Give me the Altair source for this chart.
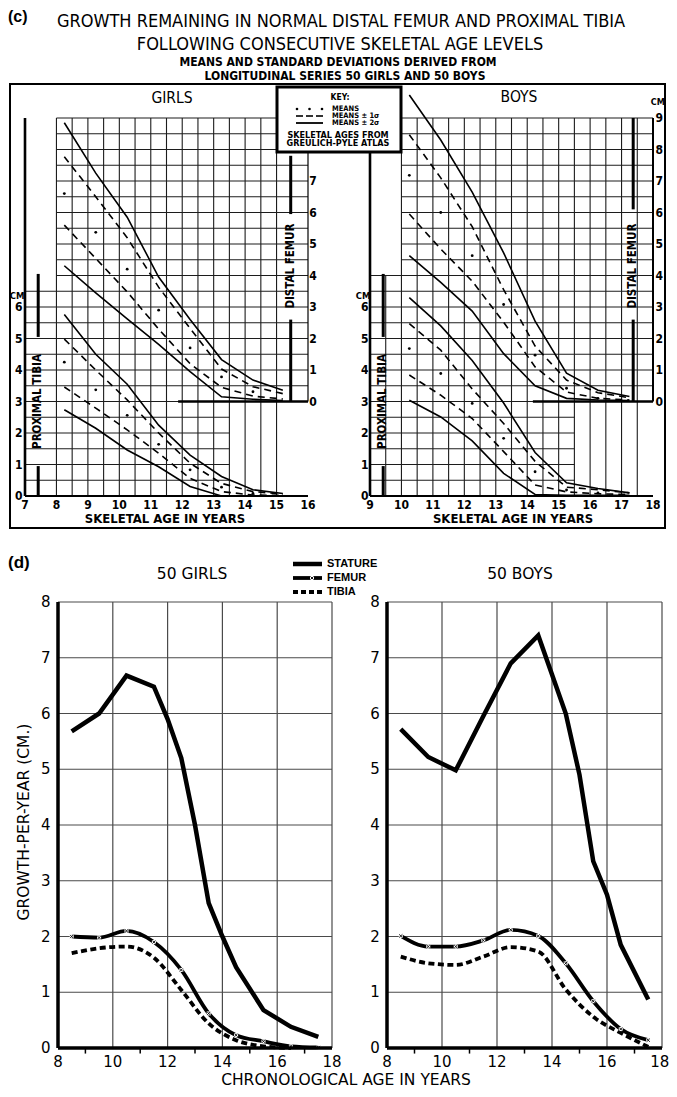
import altair as alt
import pandas as pd
import numpy as np

# ---------------- data: (c) growth remaining after each skeletal age ----------------
girls_skel_age = [8.25, 9.25, 10.25, 11.25, 12.25, 13.25, 14.25, 15.2]
girls_tibia_plus2 = [5.76, 4.5, 3.55, 2.25, 1.3, 0.62, 0.2, 0.08]
girls_tibia_plus1 = [4.98, 4.0, 3.05, 2.0, 1.04, 0.4, 0.14, 0.06]
girls_tibia_mean = [4.25, 3.37, 2.56, 1.64, 0.83, 0.28, 0.08]
girls_tibia_minus1 = [3.46, 2.79, 2.1, 1.36, 0.56, 0.14, 0.03, 0.02]
girls_tibia_minus2 = [2.74, 2.15, 1.46, 0.93, 0.3, 0.0, 0.0, 0.0]
girls_femur_plus2 = [8.85, 7.25, 5.85, 3.95, 2.6, 1.33, 0.68, 0.36]
girls_femur_plus1 = [7.77, 6.5, 5.2, 3.63, 2.32, 1.03, 0.47, 0.25]
girls_femur_mean = [6.6, 5.37, 4.2, 2.9, 1.7, 0.78, 0.31]
girls_femur_minus1 = [5.6, 4.54, 3.48, 2.3, 1.2, 0.45, 0.17, 0.08]
girls_femur_minus2 = [4.31, 3.45, 2.62, 1.81, 0.95, 0.15, 0.07, 0.03]

boys_skel_age = [10.25, 11.25, 12.25, 13.25, 14.25, 15.25, 16.25, 17.25]
boys_tibia_plus2 = [6.3, 5.4, 4.3, 2.95, 1.38, 0.42, 0.24, 0.1]
boys_tibia_plus1 = [5.47, 4.63, 3.4, 2.3, 1.1, 0.28, 0.2, 0.1]
boys_tibia_mean = [4.68, 3.89, 2.94, 1.83, 0.77, 0.19, 0.1]
boys_tibia_minus1 = [3.84, 3.2, 2.46, 1.41, 0.35, 0.13, 0.07, 0.05]
boys_tibia_minus2 = [3.04, 2.51, 1.75, 0.72, 0.05, 0.02, 0.02, 0.02]
boys_femur_plus2 = [9.73, 8.3, 6.65, 4.72, 2.55, 0.9, 0.36, 0.16]
boys_femur_plus1 = [8.47, 7.1, 5.55, 3.55, 1.76, 0.68, 0.28, 0.12]
boys_femur_mean = [7.18, 6.0, 4.63, 3.08, 1.47, 0.42, 0.1]
boys_femur_minus1 = [5.95, 4.84, 3.82, 2.52, 1.1, 0.3, 0.1, 0.05]
boys_femur_minus2 = [4.63, 3.78, 2.87, 1.52, 0.5, 0.1, 0.05, 0.03]

girls_skel_ticks = list(range(7, 17))
boys_skel_ticks = list(range(9, 19))
tibia_ticks = list(range(0, 7))
girls_femur_ticks = list(range(0, 8))
boys_femur_ticks = list(range(0, 10))
FEMUR_BASE = 3  # the femur scale starts at 3 cm of the tibia scale

# ---------------- data: (d) growth per year ----------------
chrono_age = [8.5, 9.5, 10.5, 11.5, 12.5, 13.5, 14.5, 15.5, 16.5, 17.5]
girls_stature_age = [8.5, 9.5, 10.5, 11.5, 12.0, 12.5, 13.0, 13.5, 14.0, 14.5, 15.5, 16.5, 17.5]
girls_stature = [5.68, 6.0, 6.68, 6.48, 5.9, 5.2, 4.0, 2.6, 2.0, 1.45, 0.68, 0.38, 0.2]
girls_femur = [2.0, 1.98, 2.1, 1.9, 1.4, 0.62, 0.23, 0.12, 0.03, 0.01]
girls_tibia = [1.7, 1.79, 1.82, 1.62, 1.04, 0.44, 0.14, 0.03, 0.0]
boys_stature_age = [8.5, 9.5, 10.5, 11.5, 12.5, 13.5, 14.5, 15.0, 15.5, 16.0, 16.5, 17.5]
boys_stature = [5.72, 5.22, 4.98, 5.95, 6.9, 7.4, 6.0, 4.9, 3.35, 2.75, 1.85, 0.87]
boys_femur = [2.01, 1.82, 1.82, 1.93, 2.12, 2.01, 1.52, 0.84, 0.34, 0.14]
boys_tibia = [1.64, 1.52, 1.49, 1.64, 1.81, 1.73, 1.05, 0.56, 0.27, 0.02]
chrono_ticks = [8, 10, 12, 14, 16, 18]
growth_ticks = list(range(0, 9))

# ---------------- canvas & scales ----------------
W, H, M = 661, 1081, 8
TOPF = "Liberation Sans Narrow, DejaVu Sans Condensed, Liberation Sans, sans-serif"
BOTF = "DejaVu Sans, Liberation Sans, sans-serif"
LEGF = "Liberation Sans, Arial, sans-serif"


def lin_x(va, pa, vb, pb):
    k = (pb - pa) / (vb - va)
    d0 = va - (pa - M) / k
    return alt.Scale(domain=[d0, d0 + W / k], nice=False, zero=False)


def lin_y(va, pa, vb, pb):
    k = (pa - pb) / (vb - va)
    d0 = va - (M + H - pa) / k
    return alt.Scale(domain=[d0, d0 + H / k], nice=False, zero=False)


PX = alt.Scale(domain=[M, M + W], nice=False, zero=False)
PY = alt.Scale(domain=[M, M + H], nice=False, zero=False, reverse=True)
TGX = lin_x(7, 25, 16, 308)
TBX = lin_x(9, 370, 18, 653)
TY = lin_y(0, 496, 12, 118)
BGX = lin_x(8, 58, 18, 332)
BBX = lin_x(8, 387, 18, 662)
BY = lin_y(0, 1048, 8, 602)

layers = []


def X(sc):
    return alt.X("x:Q", scale=sc, axis=None)


def Y(sc):
    return alt.Y("y:Q", scale=sc, axis=None)


def segs(rows, sx, sy, **mk):
    df = pd.DataFrame(rows, columns=["x", "y", "x2", "y2"])
    layers.append(alt.Chart(df).mark_rule(**mk).encode(x=X(sx), y=Y(sy), x2="x2:Q", y2="y2:Q"))


def line(xv, yv, sx, sy, **mk):
    df = pd.DataFrame({"x": list(xv)[: len(yv)], "y": list(yv)})
    layers.append(alt.Chart(df).mark_line(**mk).encode(x=X(sx), y=Y(sy)))


def dots(xv, yv, sx, sy, kind="circle", **mk):
    df = pd.DataFrame({"x": list(xv)[: len(yv)], "y": list(yv)})
    ch = alt.Chart(df)
    ch = ch.mark_circle(**mk) if kind == "circle" else ch.mark_point(**mk)
    layers.append(ch.encode(x=X(sx), y=Y(sy)))


def texts(rows, sx, sy, **mk):
    df = pd.DataFrame(rows, columns=["x", "y", "t"])
    layers.append(alt.Chart(df).mark_text(**mk).encode(x=X(sx), y=Y(sy), text="t:N"))


# ---------------- (c) panels ----------------
def top_panel(SX, ages, tib, fem, p):
    a0, a1 = p["axis"], p["end"]
    grid = []
    for g in np.arange(p["vg0"], p["vg1"] + 0.01, 0.5):
        grid.append((g, 0, g, p["vtop"](g)))
    for t in np.arange(0.5, 12.01, 0.5):
        if t > p["hi_cut"]:
            grid.append((p["hi_start"], t, a1, t))
        elif t >= FEMUR_BASE:
            grid.append((a0, t, a1, t))
        else:
            grid.append((a0, t, p["lo_end"], t))
    segs(grid, SX, TY, color="#1c1c1c", strokeWidth=1.1)

    for group, base in ((tib, 0), (fem, FEMUR_BASE)):
        p2, p1, mn, m1, m2 = group
        for vals, dash in ((p2, None), (m2, None), (p1, [7, 5]), (m1, [7, 5])):
            kw = dict(color="black", strokeWidth=1.6)
            if dash:
                kw["strokeDash"] = dash
            line(ages, [v + base for v in vals], SX, TY, **kw)
        dots(ages, [v + base for v in mn], SX, TY, size=8, color="black", opacity=1)

    # axes and scale bars
    segs([(a0, 0, a0, p["tib_top"])], SX, TY, color="black", strokeWidth=2.6)
    segs([(a0, 0, a1, 0)], SX, TY, color="black", strokeWidth=2)
    pr = p["prox"]
    segs([(pr, 0, pr, 0.95), (pr, 5.05, pr, 7.05)], SX, TY, color="black", strokeWidth=3)
    di = p["dist"]
    segs([(di, FEMUR_BASE, di, FEMUR_BASE + 2.6), (di, FEMUR_BASE + p["dist_gap"], di, FEMUR_BASE + p["dist_top"])],
         SX, TY, color="black", strokeWidth=3)
    segs([(p["fz0"], FEMUR_BASE, a1, FEMUR_BASE)], SX, TY, color="black", strokeWidth=2.6)
    segs([(a1, FEMUR_BASE, a1, FEMUR_BASE + p["fax_top"])], SX, TY, color="black", strokeWidth=p["fax_w"])

    texts([(p["tl"], t, str(t)) for t in tibia_ticks], SX, TY,
          font=TOPF, fontSize=12, fontWeight="bold", baseline="middle")
    texts([(p["tl"] - 0.05, 6.36, "CM")], SX, TY, font=TOPF, fontSize=9.5, fontWeight="bold", baseline="middle")
    texts([(p["fl"], FEMUR_BASE + f, str(f)) for f in p["fticks"]], SX, TY,
          font=TOPF, fontSize=12, fontWeight="bold", baseline="middle")
    if p.get("fcm"):
        texts([(p["fl"] - 0.05, FEMUR_BASE + 9.5, "CM")], SX, TY, font=TOPF, fontSize=9,
              fontWeight="bold", baseline="middle")
    texts([(a, -0.3, str(a)) for a in p["xticks"]], SX, TY,
          font=TOPF, fontSize=12, fontWeight="bold", baseline="middle")
    texts([(p["title_x"], -0.72, "SKELETAL AGE IN YEARS")], SX, TY,
          font=TOPF, fontSize=13, fontWeight="bold", baseline="middle")
    texts([(pr, 3.0, "PROXIMAL  TIBIA")], SX, TY, font=TOPF, fontSize=11.5, fontWeight="bold",
          baseline="middle", angle=270)
    texts([(di, FEMUR_BASE + 4.3, "DISTAL  FEMUR")], SX, TY, font=TOPF, fontSize=11.5, fontWeight="bold",
          baseline="middle", angle=270)


top_panel(TGX, girls_skel_age,
          (girls_tibia_plus2, girls_tibia_plus1, girls_tibia_mean, girls_tibia_minus1, girls_tibia_minus2),
          (girls_femur_plus2, girls_femur_plus1, girls_femur_mean, girls_femur_minus1, girls_femur_minus2),
          dict(axis=7, end=16, vg0=8, vg1=15, vtop=lambda g: 12, hi_cut=6.5, hi_start=8, lo_end=13.5,
               tib_top=12, prox=7.42, dist=15.45, dist_gap=5.95, dist_top=7.8, fz0=11.87, fax_top=9,
               fax_w=1.2, tl=6.8, fl=16.16, fticks=girls_femur_ticks, xticks=girls_skel_ticks,
               title_x=11.45))
top_panel(TBX, boys_skel_age,
          (boys_tibia_plus2, boys_tibia_plus1, boys_tibia_mean, boys_tibia_minus1, boys_tibia_minus2),
          (boys_femur_plus2, boys_femur_plus1, boys_femur_mean, boys_femur_minus1, boys_femur_minus2),
          dict(axis=9, end=18, vg0=9.5, vg1=17.5, vtop=lambda g: 7 if g < 10 else 12, hi_cut=7,
               hi_start=10, lo_end=15.5, tib_top=10.9, prox=9.42, dist=17.37, dist_gap=6.1, dist_top=9.0,
               fz0=14.18, fax_top=9, fax_w=2, tl=8.83, fl=18.2, fticks=boys_femur_ticks, fcm=True,
               xticks=boys_skel_ticks, title_x=13.55))

# frame, headings and key of (c)
frame = pd.DataFrame({"x": [10], "x2": [665], "y": [84], "y2": [528]})
layers.append(alt.Chart(frame).mark_rect(fillOpacity=0, stroke="black", strokeWidth=2).encode(
    x=X(PX), x2="x2:Q", y=Y(PY), y2="y2:Q"))
keybox = pd.DataFrame({"x": [277], "x2": [401], "y": [87], "y2": [152]})
layers.append(alt.Chart(keybox).mark_rect(fill="white", stroke="black", strokeWidth=3).encode(
    x=X(PX), x2="x2:Q", y=Y(PY), y2="y2:Q"))
dots([297, 309.5, 322], [109, 109, 109], PX, PY, size=7, color="black", opacity=1)
segs([(296, 116, 303, 116), (306, 116, 313, 116), (316, 116, 323, 116)], PX, PY, color="black", strokeWidth=1.6)
segs([(296, 123, 323, 123)], PX, PY, color="black", strokeWidth=1.8)
texts([(340, 97, "KEY:")], PX, PY, font=TOPF, fontSize=8.5, fontWeight="bold", baseline="middle")
texts([(332, 108.5, "MEANS"), (332, 115.5, "MEANS ± 1σ"), (332, 122.5, "MEANS ± 2σ")], PX, PY,
      font=TOPF, fontSize=7.5, fontWeight="bold", baseline="middle", align="left")
texts([(338, 134.5, "SKELETAL AGES FROM"), (338, 143, "GREULICH-PYLE ATLAS")], PX, PY,
      font=TOPF, fontSize=9, fontWeight="bold", baseline="middle")
texts([(172, 98, "GIRLS"), (519, 97, "BOYS")], PX, PY, font=TOPF, fontSize=15.5, baseline="middle")
texts([(8, 17, "(c)")], PX, PY, font=LEGF, fontSize=16, fontWeight="bold", baseline="middle", align="left")
texts([(341, 22, "GROWTH REMAINING IN NORMAL DISTAL FEMUR AND PROXIMAL TIBIA"),
       (340, 45, "FOLLOWING CONSECUTIVE SKELETAL AGE LEVELS")], PX, PY,
      font=TOPF, fontSize=18, baseline="middle")
texts([(338, 62, "MEANS AND STANDARD DEVIATIONS DERIVED FROM"),
       (345, 76, "LONGITUDINAL SERIES 50 GIRLS AND 50 BOYS")], PX, PY,
      font=TOPF, fontSize=12, fontWeight="bold", baseline="middle")


# ---------------- (d) panels ----------------
def bottom_panel(SX, st_age, st, fem, tib, ylab_x, xlab_x):
    grid = [(g, 0, g, 8) for g in chrono_ticks[1:]] + [(8, v, 18, v) for v in growth_ticks[1:]]
    segs(grid, SX, BY, color="#4a4a4a", strokeWidth=1.2)
    line(chrono_age, tib, SX, BY, color="black", strokeWidth=3.8, strokeDash=[6, 3.5], interpolate="monotone")
    line(chrono_age, fem, SX, BY, color="black", strokeWidth=3.8, interpolate="monotone")
    dots(chrono_age, fem, SX, BY, kind="point", shape="square", size=16, filled=True, color="white", opacity=1)
    dots(chrono_age, fem, SX, BY, kind="point", shape="M-1,-1L1,1M-1,1L1,-1", size=10, filled=False,
         color="black", strokeWidth=0.9, opacity=1)
    line(st_age, st, SX, BY, color="black", strokeWidth=4.5)
    segs([(8, 0, 8, 8), (8, 0, 18, 0)], SX, BY, color="black", strokeWidth=3.5)
    segs([(k, 0, k, -0.1) for k in range(9, 18, 2)], SX, BY, color="black", strokeWidth=1.5)
    texts([(ylab_x, v, str(v)) for v in growth_ticks], SX, BY, font=BOTF, fontSize=15, baseline="middle")
    texts([(xlab_x(a), -0.26, str(a)) for a in chrono_ticks], SX, BY, font=BOTF, fontSize=15,
          baseline="middle")


bottom_panel(BGX, girls_stature_age, girls_stature, girls_femur, girls_tibia, 7.55, lambda a: a)
bottom_panel(BBX, boys_stature_age, boys_stature, boys_femur, boys_tibia, 7.56,
             lambda a: a - 0.08 if a == 18 else a)

texts([(8, 563, "(d)")], PX, PY, font=LEGF, fontSize=17, fontWeight="bold", baseline="middle", align="left")
texts([(192, 574, "50 GIRLS"), (520, 574, "50 BOYS")], PX, PY, font=BOTF, fontSize=15.5, baseline="middle")
texts([(24, 822, "GROWTH-PER-YEAR (CM.)")], PX, PY, font=BOTF, fontSize=15.5, baseline="middle", angle=270)
texts([(346, 1080, "CHRONOLOGICAL AGE IN YEARS")], PX, PY, font=BOTF, fontSize=15.5, baseline="middle")
# legend
segs([(293, 564, 322, 564)], PX, PY, color="black", strokeWidth=4.5)
segs([(293, 578, 322, 578)], PX, PY, color="black", strokeWidth=3.8)
segs([(293, 592, 323, 592)], PX, PY, color="black", strokeWidth=3.8, strokeDash=[5, 3])
dots([312], [578], PX, PY, kind="point", shape="square", size=16, filled=True, color="white", opacity=1)
dots([312], [578], PX, PY, kind="point", shape="M-1,-1L1,1M-1,1L1,-1", size=10, filled=False,
     color="black", strokeWidth=0.9, opacity=1)
texts([(327, 564, "STATURE"), (327, 578, "FEMUR"), (327, 592, "TIBIA")], PX, PY,
      font=LEGF, fontSize=11, fontWeight="bold", baseline="middle", align="left")

chart = (
    alt.layer(*layers)
    .resolve_scale(x="independent", y="independent")
    .properties(width=W, height=H, padding=0, autosize=alt.AutoSizeParams(type="none"))
    .configure_view(stroke=None)
)
chart.save("out.html", embed_options={"renderer": "svg", "actions": False})
